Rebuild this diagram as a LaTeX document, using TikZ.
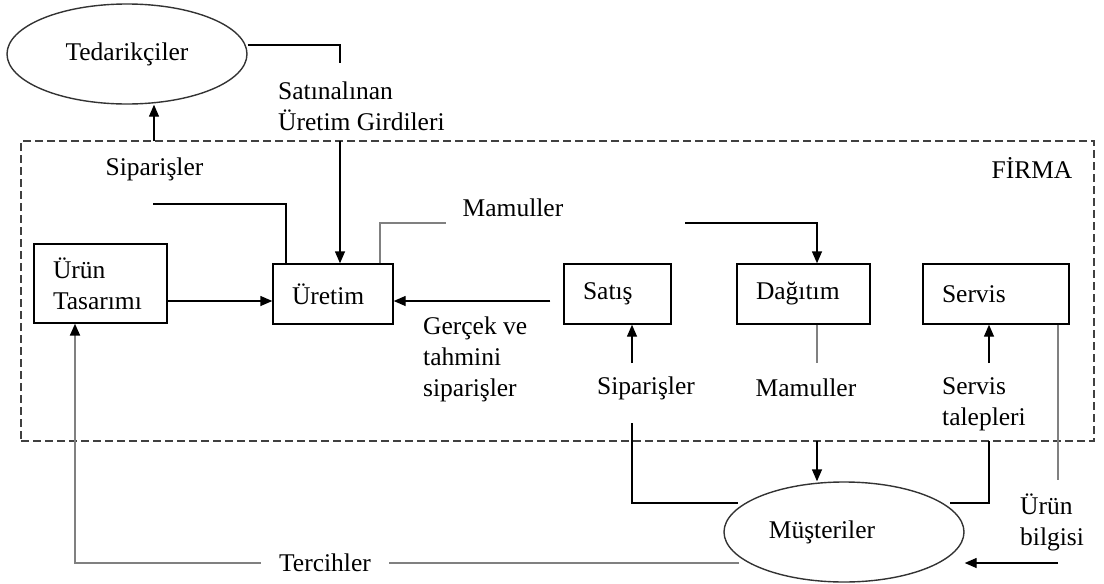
\documentclass[tikz,border=0pt]{standalone}
\usepackage{fontspec}
\setmainfont{Liberation Serif}
\usetikzlibrary{arrows.meta,shapes.geometric}

\begin{document}
\begin{tikzpicture}[x=1pt,y=-1pt,
  every node/.style={font=\fontsize{25.5}{31}\selectfont, inner sep=0pt},
  conn/.style={line width=1.4pt, draw=black},
  arr/.style={conn, -{Triangle[length=12pt,width=10pt]}},
  gline/.style={line width=2pt, draw=black!50},
  box/.style={draw, line width=1.4pt, inner xsep=19pt, inner ysep=0pt, align=left, text width=#1},
  oval/.style={ellipse, draw=black!80, line width=1.4pt, minimum width=240pt, minimum height=100pt},
  frame/.style={draw=black!75, line width=1.3pt, dash pattern=on 8pt off 4pt,
                minimum width=1073pt, minimum height=300pt}
]
\useasboundingbox (0,0) rectangle (1104,584);

% firm boundary
\node[frame] (firma) at (557.5,291) {};
\node (firmaLbl) at (1032,168) {FİRMA};

% outside parties
\node[oval] (ted) at (127,54) {Tedarikçiler};
\node[oval, label={[xshift=-22pt]center:Müşteriler}] (mus) at (844,532) {};

% departments
\node[box=95pt,  minimum height=79pt] (utas)    at (100.5,283.5) {Ürün\\Tasarımı};
\node[box=82pt,  minimum height=60pt] (uretim)  at (333,294)     {Üretim};
\node[box=69pt,  minimum height=60pt] (satis)   at (617.5,294)   {Satış};
\node[box=95pt,  minimum height=60pt] (dagitim) at (803.5,294)   {Dağıtım};
\node[box=108pt, minimum height=60pt] (servis)  at (996,294)     {Servis};

% flow labels
\node[anchor=west, align=left] (satinal) at (278,106) {Satınalınan\\Üretim Girdileri};
\node (sipUst) at (154.5,169) {Siparişler};
\node (mamUst) at (513,208) {Mamuller};
\node[anchor=west, align=left] (gercek) at (423,359) {Gerçek ve\\tahmini\\siparişler};
\node (sipAlt) at (646,388) {Siparişler};
\node (mamAlt) at (806,388) {Mamuller};
\node[anchor=west, align=left] (srvTal) at (942,404) {Servis\\talepleri};
\node[anchor=west, align=left] (urunBil) at (1020,522) {Ürün\\bilgisi};
\node[inner xsep=18pt] (tercih) at (325,563) {Tercihler};

% connector end points
\coordinate (sipOut)  at (154,141);
\coordinate (satTop)  at (340,63);
\coordinate (satIn)   at (340,141);
\coordinate (sipIn)   at (153,204);
\coordinate (uw)      at ([yshift=-7pt]uretim.west);
\coordinate (ue)      at ([yshift=-7pt]uretim.east);
\coordinate (sw)      at ([xshift=-13pt,yshift=-7pt]satis.west);
\coordinate (mamIn)   at (446,223);
\coordinate (mamOut)  at (685,223);
\coordinate (sipUp)   at (632,363);
\coordinate (mamDn)   at (817,363);
\coordinate (srvUp)   at (989,363);
\coordinate (ubTop)   at (1058,480);
\coordinate (sipDn)   at (632,423);
\coordinate (musWL)   at (738,503);
\coordinate (srvDn)   at (989,441);
\coordinate (musEL)   at (950,503);
\coordinate (mamOut2) at (817,441);
\coordinate (ubArr)   at (1058,563);
\coordinate (musBL)   at (739,563);

% supplier side
\draw[arr]  (sipOut) -- (sipOut |- ted.south);
\draw[conn] ([yshift=9pt]ted.east) -| (satTop);
\draw[arr]  (satIn) -- (satIn |- uretim.north);
\draw[conn] (sipIn) -| ([xshift=-47pt]uretim.north);

% inside the firm
\draw[arr]  (uw -| utas.east) -- (uw);
\draw[arr]  (sw) -- (ue);
\draw[gline] ([xshift=47pt]uretim.north) |- (mamIn);
\draw[arr]  (mamOut) -| ([xshift=13.5pt]dagitim.north);
\draw[arr]  (sipUp) -- (sipUp |- satis.south);
\draw[gline] (mamDn |- dagitim.south) -- (mamDn);
\draw[arr]  (srvUp) -- (srvUp |- servis.south);
\draw[gline] (ubTop |- servis.south) -- (ubTop);

% customer side
\draw[conn] (sipDn) |- (musWL);
\draw[conn] (srvDn) |- (musEL);
\draw[arr]  (mamOut2) -- (mamOut2 |- mus.north);
\draw[arr]  (ubArr) -- (ubArr -| mus.east);
\draw[gline] (musBL) -- (tercih.east);
\draw[gline, -{Triangle[length=12pt,width=10pt,color=black]}]
  (tercih.west) -| ([xshift=-25.5pt]utas.south);
\end{tikzpicture}
\end{document}
